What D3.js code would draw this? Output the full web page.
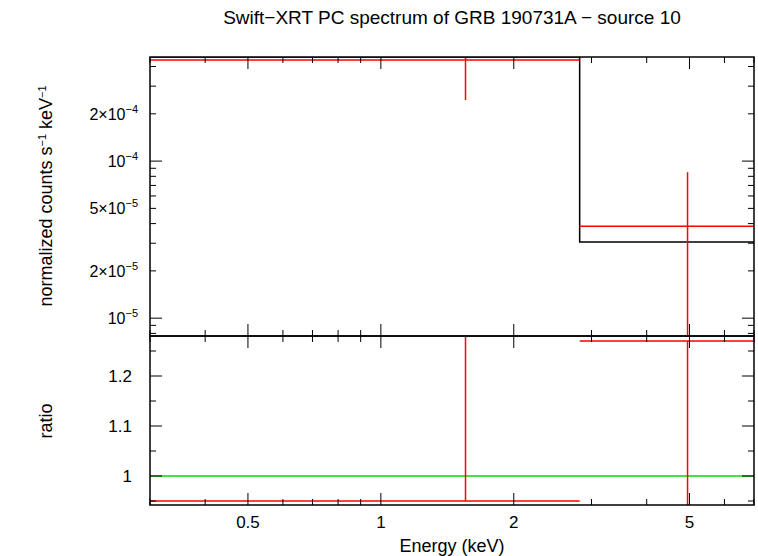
<html>
<head>
<script src="https://cdn.jsdelivr.net/npm/d3@7"></script>
<style>
  body { margin: 0; background: #fff; }
  text { font-family: "Liberation Sans", Arial, sans-serif; }
</style>
</head>
<body>
<script>
// data
var binLo = [0.3, 2.82];
var binHi = [2.82, 7.0];
var binMid = [1.555, 4.95];
var rate = [4.4e-4, 3.85e-5];
var rateErrLo = [2.45e-4, 1e-7];
var rateErrHi = [1e-2, 8.5e-5];
var model = [4.6e-4, 3.05e-5];
var ratio = [0.95, 1.27];
var ratioErrLo = [0.95, 0.5];
var ratioErrHi = [2, 1.27];
var topTicks = [1e-5, 2e-5, 5e-5, 1e-4, 2e-4];
var topMant = ["", "2×", "5×", "", "2×"];
var topExp = ["\u22125", "\u22125", "\u22125", "\u22124", "\u22124"];
var ratioTicks = [1, 1.1, 1.2];
var xTicks = [0.5, 1, 2, 5];

var W = 758, H = 556, L = 150, R = 754, T = 57, M = 336, B = 505;
var svg = d3.select("body").append("svg").attr("width", W).attr("height", H);

var x = d3.scaleLog().domain([0.3, 7]).range([L, R]);
var yT = d3.scaleLog().domain([7.7e-6, 4.6e-4]).range([M, T]).clamp(true);
var yB = d3.scaleLinear().domain([0.942, 1.28]).range([B, M]).clamp(true);

svg.append("clipPath").attr("id", "ct").append("rect").attr("x", L).attr("y", T).attr("width", R - L).attr("height", M - T);
svg.append("clipPath").attr("id", "cb").append("rect").attr("x", L).attr("y", M).attr("width", R - L).attr("height", B - M);

function line(g, x1, y1, x2, y2, c, w) {
  g.append("line").attr("x1", x1).attr("y1", y1).attr("x2", x2).attr("y2", y2)
    .attr("stroke", c).attr("stroke-width", w || 1.5);
}

// minor x ticks
var xMinor = [];
[0.1, 1].forEach(function(d) { for (var k = 1; k < 10; k++) { var v = d * k; if (v >= 0.3 && v <= 7) xMinor.push(v); } });

function frame(y0, y1) {
  svg.append("rect").attr("x", L).attr("y", y0).attr("width", R - L).attr("height", y1 - y0)
    .attr("fill", "none").attr("stroke", "#000").attr("stroke-width", 1.5);
  xMinor.forEach(function(v) {
    var big = xTicks.indexOf(v) >= 0 || v === 1;
    var len = big ? 12 : 6;
    line(svg, x(v), y0, x(v), y0 + len, "#000", 1);
    line(svg, x(v), y1, x(v), y1 - len, "#000", 1);
  });
}

// top panel
var gT = svg.append("g").attr("clip-path", "url(#ct)");
var mp = [[x(binLo[0]), yT(model[0])], [x(binHi[0]), yT(model[0])], [x(binLo[1]), yT(model[1])], [x(binHi[1]), yT(model[1])]];
gT.append("path").attr("d", d3.line()(mp)).attr("fill", "none").attr("stroke", "#000").attr("stroke-width", 1.5);
rate.forEach(function(v, i) {
  line(gT, x(binLo[i]), yT(v), x(binHi[i]), yT(v), "red");
  line(gT, x(binMid[i]), yT(rateErrLo[i]), x(binMid[i]), yT(rateErrHi[i]), "red");
});
frame(T, M);
var yMinor = [];
[1e-6, 1e-5, 1e-4].forEach(function(d) { for (var k = 1; k < 10; k++) { var v = d * k; if (v >= 7.7e-6 && v <= 4.6e-4) yMinor.push(v); } });
yMinor.forEach(function(v) {
  var len = (v === 1e-5 || v === 1e-4) ? 12 : 6;
  line(svg, L, yT(v), L + len, yT(v), "#000", 1);
  line(svg, R, yT(v), R - len, yT(v), "#000", 1);
});
topTicks.forEach(function(v, i) {
  var t = svg.append("text").attr("x", L - 12).attr("y", yT(v) + 6).attr("text-anchor", "end").attr("font-size", 16);
  t.append("tspan").text(topMant[i] + "10");
  t.append("tspan").attr("dy", -7).attr("font-size", 11).text(topExp[i]);
});

// bottom panel
var gB = svg.append("g").attr("clip-path", "url(#cb)");
line(gB, L, yB(1), R, yB(1), "#00dd00");
ratio.forEach(function(v, i) {
  line(gB, x(binLo[i]), yB(v), x(binHi[i]), yB(v), "red");
  line(gB, x(binMid[i]), yB(ratioErrLo[i]), x(binMid[i]), yB(ratioErrHi[i]), "red");
});
frame(M, B);
d3.range(0.95, 1.28, 0.05).forEach(function(v) {
  var len = Math.abs(v * 10 - Math.round(v * 10)) < 1e-6 ? 12 : 6;
  line(svg, L, yB(v), L + len, yB(v), "#000", 1);
  line(svg, R, yB(v), R - len, yB(v), "#000", 1);
});
ratioTicks.forEach(function(v) {
  svg.append("text").attr("x", L - 18).attr("y", yB(v) + 6).attr("text-anchor", "end")
    .attr("font-size", 17).text(d3.format("")(v));
});

xTicks.forEach(function(v) {
  svg.append("text").attr("x", x(v)).attr("y", 528).attr("text-anchor", "middle").attr("font-size", 17).text(v);
});
svg.append("text").attr("x", (L + R) / 2).attr("y", 552).attr("text-anchor", "middle").attr("font-size", 18).text("Energy (keV)");
svg.append("text").attr("x", 452).attr("y", 24).attr("text-anchor", "middle").attr("font-size", 19)
  .text("Swift\u2212XRT PC spectrum of GRB 190731A \u2212 source 10");
svg.append("text").attr("transform", "translate(52,196) rotate(-90)").attr("text-anchor", "middle").attr("font-size", 18)
  .html("normalized counts s<tspan dy='-6' font-size='11'>\u22121</tspan><tspan dy='6'> keV</tspan><tspan dy='-6' font-size='11'>\u22121</tspan>");
svg.append("text").attr("transform", "translate(52,421) rotate(-90)").attr("text-anchor", "middle").attr("font-size", 18).text("ratio");
</script>
</body>
</html>
